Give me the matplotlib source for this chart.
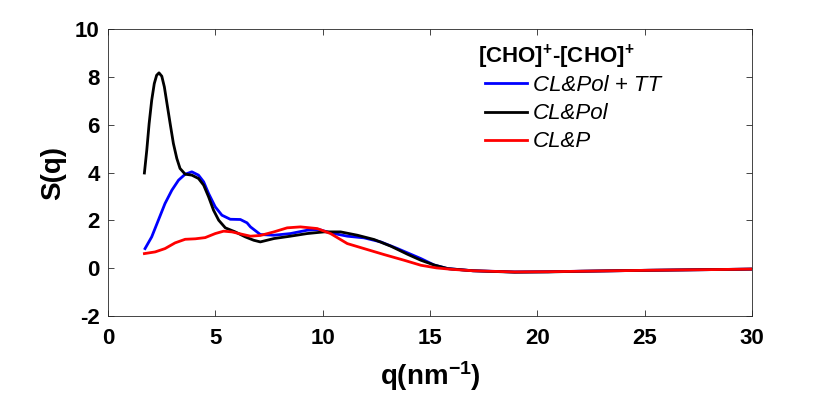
import numpy as np
import matplotlib.pyplot as plt

## S(q) curves
q_tt = [1.73, 2.04, 2.35, 2.66, 2.98, 3.29, 3.60, 3.91, 4.22, 4.46, 4.69, 5.00, 5.31, 5.70,
        6.17, 6.48, 6.64, 7.10, 7.73, 8.50, 9.28, 9.83, 10.37, 11.15, 11.93, 12.71, 13.49,
        14.58, 15.2, 15.83, 17.0, 18.94, 20.5, 22.06, 25.2, 28.3, 30.0]
s_tt = [0.81, 1.30, 2.00, 2.70, 3.26, 3.68, 3.93, 4.03, 3.89, 3.61, 3.12, 2.56, 2.21, 2.04,
        2.03, 1.89, 1.72, 1.40, 1.37, 1.44, 1.58, 1.61, 1.47, 1.33, 1.26, 1.09, 0.81,
        0.39, 0.12, -0.03, -0.12, -0.17, -0.16, -0.14, -0.10, -0.07, -0.05]

q_pol = [1.70, 1.81, 1.92, 2.04, 2.16, 2.27, 2.38, 2.51, 2.63, 2.74, 2.90, 3.05, 3.21, 3.36,
         3.60, 3.91, 4.22, 4.46, 4.69, 4.92, 5.16, 5.47, 5.93, 6.40, 6.79, 7.10, 7.73, 8.50,
         9.28, 10.06, 10.84, 11.62, 12.40, 13.18, 13.96, 14.58, 15.2, 15.83, 17.0, 18.94,
         20.5, 22.06, 25.2, 28.3, 30.0]
s_pol = [3.98, 4.93, 6.05, 7.03, 7.73, 8.08, 8.18, 8.04, 7.59, 6.96, 6.05, 5.22, 4.59, 4.17,
         3.93, 3.89, 3.75, 3.47, 2.98, 2.42, 2.00, 1.68, 1.51, 1.30, 1.16, 1.09, 1.23, 1.33,
         1.44, 1.51, 1.51, 1.37, 1.19, 0.91, 0.57, 0.32, 0.12, -0.03, -0.12, -0.18,
         -0.17, -0.14, -0.10, -0.07, -0.05]

q_p = [1.70, 2.20, 2.66, 3.13, 3.60, 4.07, 4.53, 5.00, 5.39, 5.78, 6.25, 6.64, 7.10, 7.73,
       8.35, 8.97, 9.75, 10.37, 11.15, 11.93, 12.86, 13.80, 14.58, 15.3, 16.0, 17.0, 18.94,
       20.5, 22.06, 25.2, 28.3, 30.0]
s_p = [0.60, 0.67, 0.81, 1.05, 1.20, 1.22, 1.27, 1.44, 1.54, 1.51, 1.41, 1.33, 1.36, 1.51,
       1.68, 1.72, 1.65, 1.44, 1.02, 0.81, 0.56, 0.32, 0.11, 0.00, -0.06, -0.12, -0.17,
       -0.16, -0.14, -0.10, -0.07, -0.05]

names = ['CL&Pol + TT', 'CL&Pol', 'CL&P']
colours = ['#0000ff', '#000000', '#ff0000']
leg_title = '[CHO]$^{\\mathbf{+}}$-[CHO]$^{\\mathbf{+}}$'

plt.rcParams['font.family'] = ['Liberation Sans', 'DejaVu Sans']
plt.rcParams['axes.unicode_minus'] = False
plt.rcParams['mathtext.fontset'] = 'custom'
plt.rcParams['mathtext.rm'] = 'Liberation Sans'
plt.rcParams['mathtext.bf'] = 'Liberation Sans:bold'
plt.rcParams['mathtext.it'] = 'Liberation Sans:italic'

fig = plt.figure(figsize=(8.3, 3.93), dpi=100)
ax = fig.add_axes([0.130, 0.197, 0.776, 0.728])

ax.plot(q_tt, s_tt, color=colours[0], lw=2, label=names[0], solid_joinstyle='round')
ax.plot(q_pol, s_pol, color=colours[1], lw=2, label=names[1], solid_joinstyle='round')
ax.plot(q_p, s_p, color=colours[2], lw=2, label=names[2], solid_joinstyle='round')

ax.set_xlim(0, 30)
ax.set_ylim(-2, 10)
ax.set_xticks(np.arange(0, 31, 5))
ax.set_yticks(np.arange(-2, 11, 2))
ax.tick_params(direction='in', length=4, width=0.6, top=True, right=True,
               labelsize=16, colors='#262626', labelcolor='black')
ax.tick_params(axis='x', pad=9)
ax.tick_params(axis='y', pad=6)
for lab in ax.get_xticklabels() + ax.get_yticklabels():
    lab.set_fontweight('bold')
for sp in ax.spines.values():
    sp.set_color('#262626')
    sp.set_linewidth(0.6)

ax.set_xlabel('q(nm$^{\\mathbf{-1}}$)', fontsize=20, fontweight='bold', labelpad=7)
ax.set_ylabel('S(q)', fontsize=20, fontweight='bold', labelpad=6)

# legend title drawn on its own, a bit left of the handles
ax.text(0.5745, 0.905, leg_title, transform=ax.transAxes, fontsize=16,
        fontweight='bold', ha='left', va='center')
leg = ax.legend(loc='upper left', bbox_to_anchor=(0.585, 0.84), frameon=False,
                prop={'size': 16, 'style': 'italic'}, handlelength=1.9,
                handletextpad=0.26, labelspacing=0.32, borderpad=0, borderaxespad=0)

plt.savefig('out.png', dpi=100)
